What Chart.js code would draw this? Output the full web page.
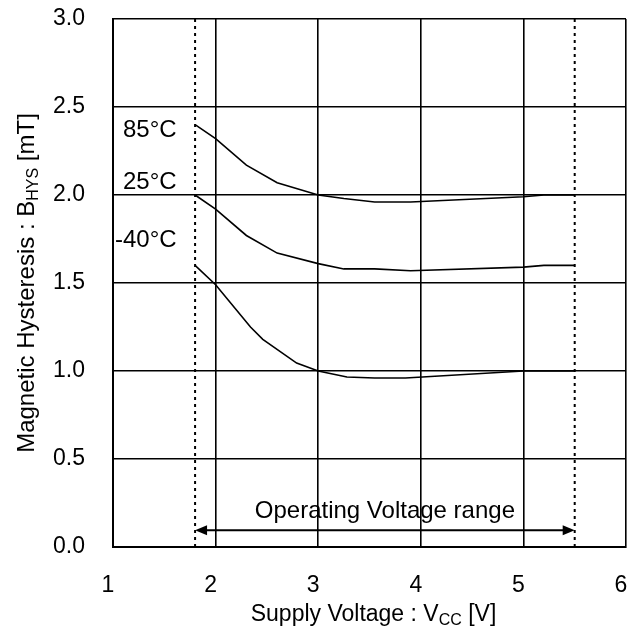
<!DOCTYPE html>
<html>
<head>
<meta charset="utf-8">
<script src="https://cdn.jsdelivr.net/npm/chart.js@4"></script>
<style>
html,body{margin:0;padding:0;background:#fff;}
#wrap{width:630px;height:632px;position:relative;}
</style>
</head>
<body>
<div id="wrap"><canvas id="c" width="630" height="632"></canvas></div>
<script>
// ---- data ----
const voltage = [1.8, 2.0, 2.3, 2.6, 3.0, 3.25, 3.55, 3.9, 5.0, 5.2, 5.5];
const hys85 = [2.40, 2.32, 2.17, 2.07, 2.00, 1.98, 1.96, 1.96, 1.99, 2.00, 2.00];
const hys25 = [2.00, 1.92, 1.77, 1.67, 1.61, 1.58, 1.58, 1.57, 1.59, 1.60, 1.60];
const voltageM40 = [1.8, 2.0, 2.34, 2.46, 2.79, 3.0, 3.28, 3.55, 3.85, 5.0, 5.2, 5.5];
const hysM40 = [1.60, 1.49, 1.25, 1.18, 1.045, 1.00, 0.966, 0.96, 0.96, 1.00, 1.00, 1.00];
const seriesLabels = ['85°C', '25°C', '-40°C'];
const labelPos = [[1.62, 2.37], [1.62, 2.07], [1.62, 1.74]];
const rangeBounds = [1.8, 5.5];
const rangeY = 0.095;
const rangeText = 'Operating Voltage range';
const xTicks = [1, 2, 3, 4, 5, 6];
const yTicks = [0, 0.5, 1.0, 1.5, 2.0, 2.5, 3.0];

const FONT = '"Liberation Sans", Arial, sans-serif';
const toXY = (xs, ys) => xs.map((x, i) => ({x: x, y: ys[i]}));

const curveStyle = {borderColor: '#000', borderWidth: 1.6, pointRadius: 0, fill: false, tension: 0};
const dotStyle = {borderColor: '#000', borderWidth: 2, pointRadius: 0, fill: false, borderDash: [3, 4]};

const overlay = {
  id: 'overlay',
  afterDatasetsDraw(chart) {
    const ctx = chart.ctx;
    const xs = chart.scales.x, ys = chart.scales.y;
    ctx.save();
    ctx.fillStyle = '#000';
    ctx.strokeStyle = '#000';
    // series labels
    ctx.font = '24px ' + FONT;
    ctx.textAlign = 'right';
    ctx.textBaseline = 'middle';
    seriesLabels.forEach((t, i) => {
      ctx.fillText(t, xs.getPixelForValue(labelPos[i][0]), ys.getPixelForValue(labelPos[i][1]));
    });
    // arrow
    const x1 = xs.getPixelForValue(rangeBounds[0]);
    const x2 = xs.getPixelForValue(rangeBounds[1]);
    const ay = ys.getPixelForValue(rangeY);
    ctx.lineWidth = 2;
    ctx.beginPath();
    ctx.moveTo(x1 + 8, ay); ctx.lineTo(x2 - 8, ay); ctx.stroke();
    ctx.beginPath();
    ctx.moveTo(x1, ay); ctx.lineTo(x1 + 12, ay - 5); ctx.lineTo(x1 + 12, ay + 5); ctx.closePath(); ctx.fill();
    ctx.beginPath();
    ctx.moveTo(x2, ay); ctx.lineTo(x2 - 12, ay - 5); ctx.lineTo(x2 - 12, ay + 5); ctx.closePath(); ctx.fill();
    // range text
    ctx.textAlign = 'center';
    ctx.textBaseline = 'alphabetic';
    ctx.font = '24px ' + FONT;
    ctx.fillText(rangeText, (x1 + x2) / 2, ys.getPixelForValue(0.165));
    ctx.restore();
  },
  afterDraw(chart) {
    const ctx = chart.ctx;
    const ca = chart.chartArea;
    ctx.save();
    ctx.fillStyle = '#000';
    ctx.textBaseline = 'alphabetic';
    ctx.textAlign = 'left';
    // x title with subscript
    const bigX = '23px ' + FONT, smallX = '16px ' + FONT;
    const parts = [['Supply Voltage : V', bigX, 0], ['CC', smallX, 4], [' [V]', bigX, 0]];
    let w = 0;
    parts.forEach(p => { ctx.font = p[1]; w += ctx.measureText(p[0]).width; });
    let x = (ca.left + ca.right) / 2 - w / 2 + 4;
    const by = 621;
    parts.forEach(p => { ctx.font = p[1]; ctx.fillText(p[0], x, by + p[2]); x += ctx.measureText(p[0]).width; });
    // y title rotated
    const bigY = '24px ' + FONT, smallY = '16px ' + FONT;
    const yparts = [['Magnetic Hysteresis : B', bigY, 0], ['HYS', smallY, 4], [' [mT]', bigY, 0]];
    let wy = 0;
    yparts.forEach(p => { ctx.font = p[1]; wy += ctx.measureText(p[0]).width; });
    ctx.translate(34, (ca.top + ca.bottom) / 2);
    ctx.rotate(-Math.PI / 2);
    let yx = -wy / 2;
    yparts.forEach(p => { ctx.font = p[1]; ctx.fillText(p[0], yx, p[2]); yx += ctx.measureText(p[0]).width; });
    ctx.restore();
  }
};

const zeroPad = s => { s.paddingTop = 0; s.paddingBottom = 0; s.paddingLeft = 0; s.paddingRight = 0; };

new Chart(document.getElementById('c'), {
  type: 'scatter',
  data: {
    datasets: [
      Object.assign({label: seriesLabels[0], data: toXY(voltage, hys85), showLine: true}, curveStyle),
      Object.assign({label: seriesLabels[1], data: toXY(voltage, hys25), showLine: true}, curveStyle),
      Object.assign({label: seriesLabels[2], data: toXY(voltageM40, hysM40), showLine: true}, curveStyle),
      Object.assign({label: 'min', data: toXY([rangeBounds[0], rangeBounds[0]], [0, 3]), showLine: true}, dotStyle),
      Object.assign({label: 'max', data: toXY([rangeBounds[1], rangeBounds[1]], [0, 3]), showLine: true}, dotStyle)
    ]
  },
  options: {
    responsive: false,
    animation: false,
    devicePixelRatio: 1,
    layout: {padding: {top: 19, right: 4, left: 0, bottom: 0}},
    plugins: {legend: {display: false}, tooltip: {enabled: false}},
    scales: {
      x: {
        type: 'linear', min: 1, max: 6,
        afterBuildTicks: s => { s.ticks = xTicks.map(v => ({value: v})); },
        afterFit: s => { s.height = 85; zeroPad(s); },
        grid: {color: '#000', lineWidth: 1.6, drawTicks: false},
        border: {color: '#000', width: 2},
        ticks: {color: '#000', font: {family: FONT, size: 23}, padding: 25, labelOffset: -5, maxRotation: 0,
          callback: v => String(v)}
      },
      y: {
        type: 'linear', min: 0, max: 3,
        afterBuildTicks: s => { s.ticks = yTicks.map(v => ({value: v})); },
        afterFit: s => { s.width = 113; zeroPad(s); },
        grid: {color: '#000', lineWidth: 1.6, drawTicks: false},
        border: {color: '#000', width: 2},
        ticks: {color: '#000', font: {family: FONT, size: 23}, padding: 28,
          callback: v => Number(v).toFixed(1)}
      }
    }
  },
  plugins: [overlay]
});
</script>
</body>
</html>
